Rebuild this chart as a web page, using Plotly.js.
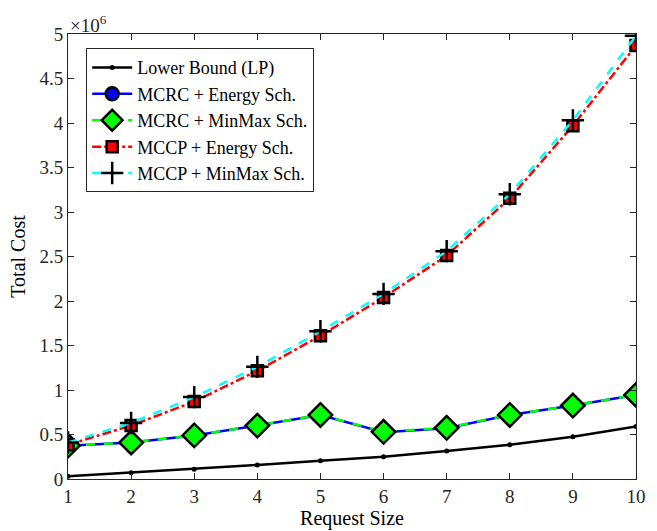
<!DOCTYPE html>
<html><head><meta charset="utf-8">
<script src="https://cdn.plot.ly/plotly-3.0.1.min.js"></script>
<style>html,body{margin:0;padding:0;background:#fff}</style>
</head><body><div id="chart" style="width:657px;height:531px"></div>
<script>
const requestSize = [1,2,3,4,5,6,7,8,9,10];
const lowerBound = [0.03e6,0.07e6,0.11e6,0.157e6,0.205e6,0.25e6,0.315e6,0.385e6,0.475e6,0.59e6];
const mcrcEnergy = [0.375e6,0.41e6,0.49e6,0.60e6,0.72e6,0.525e6,0.57e6,0.72e6,0.825e6,0.945e6];
const mcrcMinMax = [0.375e6,0.41e6,0.49e6,0.60e6,0.72e6,0.53e6,0.575e6,0.72e6,0.825e6,0.945e6];
const mccpEnergy = [0.385e6,0.60e6,0.87e6,1.215e6,1.61e6,2.04e6,2.51e6,3.155e6,3.97e6,4.87e6];
const mccpMinMax = [0.41e6,0.63e6,0.92e6,1.26e6,1.66e6,2.08e6,2.56e6,3.20e6,4.03e6,4.98e6];
const yTickVals = [0,0.5e6,1e6,1.5e6,2e6,2.5e6,3e6,3.5e6,4e6,4.5e6,5e6];
const yTickText = ["0","0.5","1","1.5","2","2.5","3","3.5","4","4.5","5"];
const names = ["Lower Bound (LP)","MCRC + Energy Sch.","MCRC + MinMax Sch.","MCCP + Energy Sch.","MCCP + MinMax Sch."];

const font = "Liberation Serif, DejaVu Serif, serif";
const traces = [
  {x:requestSize,y:lowerBound,name:names[0],mode:'lines+markers',
   line:{color:'#000',width:2.5},marker:{symbol:'circle',size:5,color:'#000'}},
  {x:requestSize,y:mcrcEnergy,name:names[1],mode:'lines+markers',
   line:{color:'#0000ff',width:2.5},marker:{symbol:'circle',size:13,color:'#0000ff',line:{color:'#000',width:2.5}}},
  {x:requestSize,y:mcrcMinMax,name:names[2],mode:'lines+markers',
   line:{color:'#00ff00',width:2.5,dash:'dash'},marker:{symbol:'diamond',size:18,color:'#00ff00',line:{color:'#000',width:2.5}}},
  {x:requestSize,y:mccpEnergy,name:names[3],mode:'lines+markers',
   line:{color:'#ff0000',width:2.5,dash:'dashdot'},marker:{symbol:'square',size:11,color:'#ff0000',line:{color:'#000',width:2.5}}},
  {x:requestSize,y:mccpMinMax,name:names[4],mode:'lines+markers',
   line:{color:'#00ffff',width:2.5,dash:'dash'},marker:{symbol:'cross-thin',size:16,color:'#000',line:{color:'#000',width:2.5}}}
];
const axisCommon = {showline:true,mirror:'ticks',linecolor:'#262626',linewidth:1,ticks:'inside',ticklen:6,
  tickcolor:'#262626',showgrid:false,zeroline:false,tickfont:{family:font,size:19,color:'#262626'}};
const layout = {
  width:657,height:531,margin:{l:68,r:21,t:34,b:52},
  paper_bgcolor:'#fff',plot_bgcolor:'#fff',font:{family:font,size:16,color:'#000'},
  xaxis:Object.assign({},axisCommon,{range:[1,10],tickvals:requestSize,
    title:{text:'Request Size',font:{family:font,size:20,color:'#000'},standoff:4}}),
  yaxis:Object.assign({},axisCommon,{range:[0,5e6],tickvals:yTickVals,ticktext:yTickText,
    title:{text:'Total Cost',font:{family:font,size:20,color:'#000'},standoff:8}}),
  legend:{x:0.032,y:0.968,xanchor:'left',yanchor:'top',bgcolor:'#fff',bordercolor:'#262626',borderwidth:1,
    font:{family:font,size:18,color:'#000'},tracegroupgap:0,itemwidth:40},
  annotations:[{xref:'paper',yref:'paper',x:0,y:1,xanchor:'left',yanchor:'bottom',showarrow:false,
    text:'×10<sup>6</sup>',font:{family:font,size:19,color:'#262626'},yshift:-4}]
};
Plotly.newPlot('chart',traces,layout,{displayModeBar:false,staticPlot:true});
</script></body></html>
